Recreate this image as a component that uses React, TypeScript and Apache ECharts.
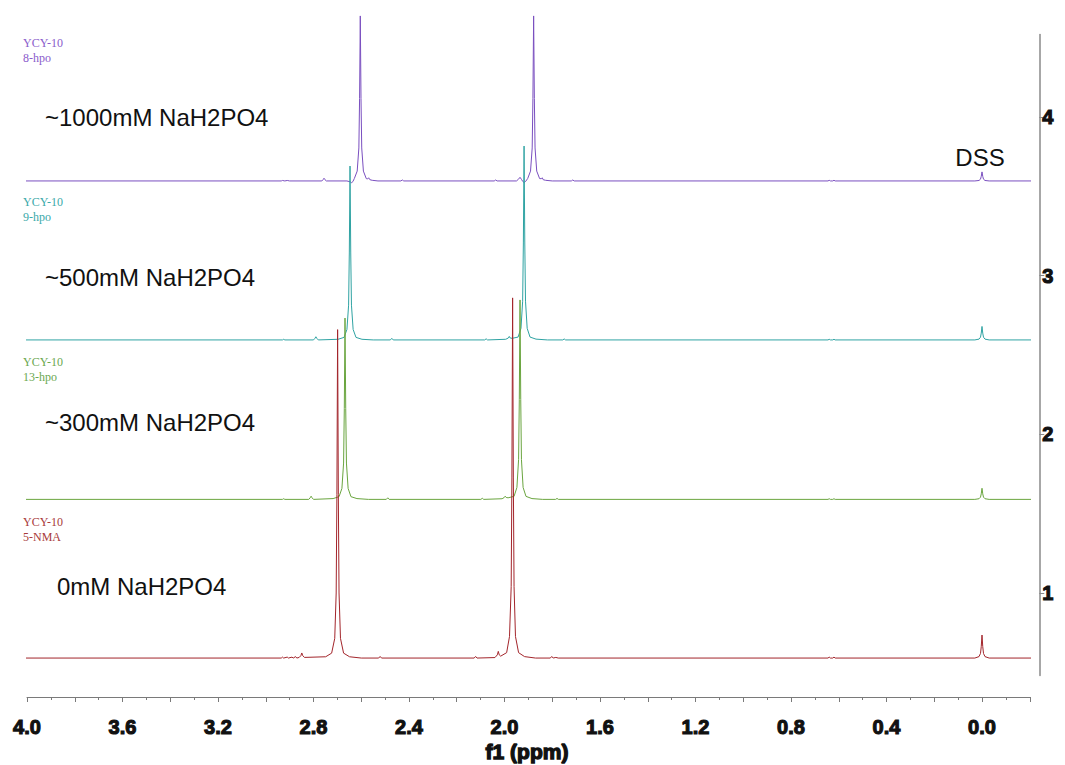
import React, { useEffect, useRef } from "react";
import * as echarts from "echarts";

// chemical shift axis (ppm)
const X_MIN = -0.2;
const X_MAX = 4.0;
const X_NAME = "f1 (ppm)";
const Y_MIN = 0.48;
const Y_MAX = 4.52;
const Y_TICKS = [1, 2, 3, 4];

const SPECTRUM_NAMES = ["8-hpo", "9-hpo", "13-hpo", "5-NMA"];
const CONDITIONS = ["~1000mM NaH2PO4", "~500mM NaH2PO4", "~300mM NaH2PO4", "0mM NaH2PO4"];
const SAMPLE = "YCY-10";
const BASELINES = [3.597, 2.595, 1.59, 0.59];

// [ppm, intensity above baseline]
const purple: number[][] = [
  [4.02, 0], [2.935, 0], [2.93, 0.003], [2.92, 0], [2.91, 0.003], [2.9, 0],
  [2.765, 0], [2.76, 0.008], [2.756, 0.017], [2.752, 0.008], [2.746, 0],
  [2.66, 0], [2.645, -0.006], [2.64, -0.011], [2.635, -0.004],
  [2.629, 0.015], [2.617, 0.062], [2.61, 0.208], [2.607, 0.52], [2.604, 1.04],
  [2.601, 0.52], [2.598, 0.208], [2.591, 0.062], [2.579, 0.015], [2.574, 0.012],
  [2.569, 0.02], [2.564, 0.008], [2.554, 0.004], [2.53, 0],
  [2.434, 0], [2.428, 0.006], [2.422, 0], [2.043, 0], [2.037, 0.006], [2.031, 0],
  [1.95, 0], [1.942, 0.01], [1.935, 0.023], [1.929, 0.01], [1.923, -0.004],
  [1.917, -0.011], [1.911, -0.002],
  [1.903, 0.015], [1.891, 0.062], [1.884, 0.208], [1.881, 0.52], [1.878, 1.04],
  [1.875, 0.52], [1.872, 0.208], [1.865, 0.062], [1.853, 0.015], [1.846, 0.014],
  [1.842, 0.02], [1.838, 0.008], [1.828, 0.004], [1.8, 0],
  [1.72, 0], [1.714, 0.006], [1.708, 0],
  [0.645, 0], [0.64, 0.004], [0.635, 0], [0.625, 0], [0.62, 0.004], [0.615, 0],
  [0.03, 0], [0.0126, 0.003], [0.0063, 0.011], [0.0031, 0.029], [0, 0.057],
  [-0.0031, 0.029], [-0.0063, 0.011], [-0.0126, 0.003], [-0.03, 0], [-0.215, 0],
];

const teal: number[][] = [
  [4.02, 0], [2.93, 0], [2.925, 0.004], [2.92, 0],
  [2.8, 0], [2.794, 0.01], [2.79, 0.02], [2.786, 0.01], [2.78, 0],
  [2.697, 0.004], [2.672, 0.016], [2.66, 0.066], [2.653, 0.219], [2.65, 0.548],
  [2.647, 1.096], [2.644, 0.548], [2.641, 0.219], [2.634, 0.066], [2.622, 0.016],
  [2.597, 0.004], [2.55, 0],
  [2.478, 0], [2.472, 0.01], [2.466, 0], [2.083, 0], [2.077, 0.007], [2.071, 0],
  [1.995, 0.004], [1.984, 0.012], [1.98, 0.022], [1.976, 0.012], [1.968, 0.01],
  [1.943, 0.018], [1.931, 0.073], [1.924, 0.244], [1.921, 0.611], [1.918, 1.222],
  [1.915, 0.611], [1.912, 0.244], [1.905, 0.073], [1.893, 0.018], [1.868, 0.005], [1.82, 0],
  [1.756, 0], [1.75, 0.006], [1.744, 0],
  [0.645, 0], [0.64, 0.004], [0.635, 0], [0.625, 0], [0.62, 0.004], [0.615, 0],
  [0.03, 0], [0.0126, 0.005], [0.0063, 0.017], [0.0031, 0.043], [0, 0.085],
  [-0.0031, 0.043], [-0.0063, 0.017], [-0.0126, 0.005], [-0.03, 0], [-0.215, 0],
];

const green: number[][] = [
  [4.02, 0], [2.93, 0], [2.925, 0.004], [2.92, 0],
  [2.82, 0], [2.814, 0.01], [2.81, 0.02], [2.806, 0.01], [2.8, 0],
  [2.718, 0.005], [2.693, 0.017], [2.681, 0.069], [2.674, 0.229], [2.671, 0.572],
  [2.668, 1.143], [2.665, 0.572], [2.662, 0.229], [2.655, 0.069], [2.643, 0.017],
  [2.618, 0.005], [2.57, 0],
  [2.495, 0], [2.489, 0.01], [2.483, 0], [2.099, 0], [2.093, 0.007], [2.087, 0],
  [2.01, 0.004], [2.001, 0.012], [1.997, 0.02], [1.993, 0.012], [1.985, 0.01],
  [1.96, 0.019], [1.948, 0.075], [1.941, 0.251], [1.938, 0.629], [1.935, 1.257],
  [1.932, 0.629], [1.929, 0.251], [1.922, 0.075], [1.91, 0.019], [1.885, 0.005], [1.84, 0],
  [1.786, 0], [1.78, 0.006], [1.774, 0],
  [0.645, 0], [0.64, 0.004], [0.635, 0], [0.625, 0], [0.62, 0.004], [0.615, 0],
  [0.03, 0], [0.0126, 0.004], [0.0063, 0.014], [0.0031, 0.035], [0, 0.07],
  [-0.0031, 0.035], [-0.0063, 0.014], [-0.0126, 0.004], [-0.03, 0], [-0.215, 0],
];

const red: number[][] = [
  [4.02, 0], [2.935, 0], [2.93, 0.006], [2.925, 0], [2.91, 0.006], [2.905, 0],
  [2.89, 0.006], [2.885, 0], [2.875, 0.009], [2.87, 0], [2.86, 0.004],
  [2.853, 0.015], [2.849, 0.032], [2.845, 0.015], [2.838, 0.004],
  [2.749, 0.008], [2.724, 0.031], [2.711, 0.124], [2.705, 0.41], [2.702, 1.03],
  [2.699, 2.07], [2.696, 1.03], [2.693, 0.41], [2.687, 0.124], [2.674, 0.031],
  [2.649, 0.008], [2.6, 0],
  [2.527, 0], [2.521, 0.01], [2.515, 0], [2.127, 0], [2.121, 0.01], [2.115, 0],
  [2.04, 0.003], [2.03, 0.02], [2.026, 0.042], [2.022, 0.02], [2.016, 0.012],
  [1.991, 0.034], [1.979, 0.136], [1.972, 0.45], [1.969, 1.135], [1.966, 2.27],
  [1.963, 1.135], [1.96, 0.45], [1.954, 0.136], [1.941, 0.034], [1.916, 0.009], [1.87, 0],
  [1.808, 0], [1.802, 0.01], [1.796, 0], [1.785, 0.004], [1.775, 0],
  [0.645, 0], [0.64, 0.006], [0.635, 0], [0.625, 0], [0.62, 0.006], [0.615, 0],
  [0.03, 0], [0.0126, 0.009], [0.0063, 0.029], [0.0031, 0.072], [0, 0.145],
  [-0.0031, 0.072], [-0.0063, 0.029], [-0.0126, 0.009], [-0.03, 0], [-0.215, 0],
];

const SPECTRA = [purple, teal, green, red];
const LINE_COLORS = ["#7a4fc0", "#2fa3a3", "#6aa53f", "#a3252b"];
const TEXT_COLORS = ["#8a5ccb", "#3aa9a9", "#6aa84f", "#a83a3a"];

// label positions (px)
const TAG_Y = [43, 202, 362, 522];
const COND_POS = [[45, 117], [45, 277], [45, 422], [57, 586]];

export default function App() {
  const ref = useRef<HTMLDivElement>(null);
  useEffect(() => {
    document.body.style.margin = "0";
    if (!ref.current) return;
    const chart = echarts.init(ref.current, undefined, { renderer: "svg" });

    const series = SPECTRA.map((s, i) => ({
      type: "line",
      name: SPECTRUM_NAMES[i],
      data: s.map((p) => [p[0], p[1] + BASELINES[i]]),
      showSymbol: false,
      symbol: "none",
      clip: false,
      lineStyle: { color: LINE_COLORS[i], width: 1 },
      z: 2 + i,
    }));

    const graphics: any[] = [];
    SPECTRUM_NAMES.forEach((n, i) => {
      graphics.push({
        type: "text",
        x: 23,
        y: TAG_Y[i],
        style: {
          text: SAMPLE,
          fill: TEXT_COLORS[i],
          font: '12px "Liberation Serif"',
          textVerticalAlign: "middle",
        },
      });
      graphics.push({
        type: "text",
        x: 23,
        y: TAG_Y[i] + 15,
        style: {
          text: n,
          fill: TEXT_COLORS[i],
          font: '12px "Liberation Serif"',
          textVerticalAlign: "middle",
        },
      });
      graphics.push({
        type: "text",
        x: COND_POS[i][0],
        y: COND_POS[i][1],
        style: {
          text: CONDITIONS[i],
          fill: "#111",
          font: '24px "Liberation Sans"',
          textVerticalAlign: "middle",
        },
      });
    });
    graphics.push({
      type: "text",
      x: 980,
      y: 157,
      style: {
        text: "DSS",
        fill: "#111",
        font: '24px "Liberation Sans"',
        textAlign: "center",
        textVerticalAlign: "middle",
      },
    });
    // x-axis title
    graphics.push({
      type: "text",
      x: 527,
      y: 751,
      style: {
        text: X_NAME,
        fill: "#111",
        font: 'bold 21px "Liberation Sans"',
        stroke: "#111",
        lineWidth: 1.3,
        textAlign: "center",
        textVerticalAlign: "middle",
      },
    });

    const boldLabel = {
      fontFamily: "Liberation Sans",
      fontWeight: "bold",
      fontSize: 20,
      color: "#111",
      textBorderColor: "#111",
      textBorderWidth: 1.1,
    };

    chart.setOption({
      animation: false,
      grid: {
        left: 27,
        right: 35.25,
        top: 34.5,
        bottom: 89.5,
        containLabel: false,
        outerBoundsMode: "none",
      },
      xAxis: {
        type: "value",
        inverse: true,
        min: X_MIN,
        max: X_MAX,
        interval: 0.2,
        offset: 21.5,
        axisLine: { onZero: false, lineStyle: { color: "#7a7a7a", width: 1 } },
        axisTick: { length: 5, lineStyle: { color: "#7a7a7a" } },
        minorTick: { show: true, splitNumber: 2, length: 3, lineStyle: { color: "#7a7a7a" } },
        splitLine: { show: false },
        axisLabel: {
          ...boldLabel,
          margin: 20,
          formatter: (v: number) => {
            const k = Math.round(v * 10);
            if (k < 0 || k % 4 !== 0) return "";
            return (k / 10).toFixed(1);
          },
        },
      },
      yAxis: {
        type: "value",
        position: "right",
        offset: 9.5,
        min: Y_MIN,
        max: Y_MAX,
        axisLine: { show: true, onZero: false, lineStyle: { color: "#8a8a8a", width: 1.5 } },
        axisTick: { show: true, length: 5, customValues: Y_TICKS, lineStyle: { color: "#8a8a8a" } },
        splitLine: { show: false },
        axisLabel: {
          ...boldLabel,
          customValues: Y_TICKS,
          margin: 3,
        },
      },
      graphic: graphics,
      series,
    });
    return () => chart.dispose();
  }, []);
  return <div ref={ref} style={{ width: 1065, height: 765 }} />;
}
